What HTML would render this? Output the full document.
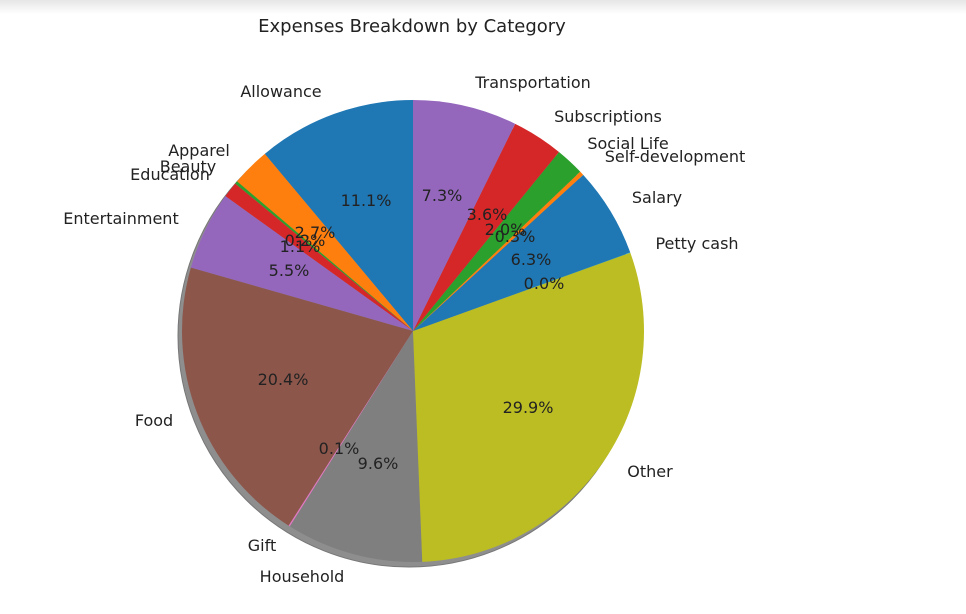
<!DOCTYPE html>
<html><head><meta charset="utf-8"><style>
html,body{margin:0;padding:0;background:#fff;}
svg text{font-family:"DejaVu Sans","Liberation Sans",sans-serif;font-size:16px;fill:#222;}
</style></head><body>
<svg id="s" width="966" height="609" viewBox="0 0 966 609" xmlns="http://www.w3.org/2000/svg">
<defs><linearGradient id="tb" x1="0" y1="0" x2="0" y2="1"><stop offset="0" stop-color="#e6e6e6"/><stop offset="1" stop-color="#fff"/></linearGradient></defs>
<rect width="966" height="609" fill="#fff"/>
<rect width="966" height="14" fill="url(#tb)"/>
<g id="shadow"></g>
<g id="pie"></g>
<text x="412" y="32" text-anchor="middle" style="font-size:18px">Expenses Breakdown by Category</text>
<g text-anchor="middle">
<text x="281" y="97">Allowance</text>
<text x="199" y="156">Apparel</text>
<text x="188" y="172">Beauty</text>
<text x="170" y="180">Education</text>
<text x="121" y="224">Entertainment</text>
<text x="154" y="426">Food</text>
<text x="262" y="551">Gift</text>
<text x="302" y="582">Household</text>
<text x="650" y="477">Other</text>
<text x="697" y="249">Petty cash</text>
<text x="657" y="203">Salary</text>
<text x="675" y="162">Self-development</text>
<text x="628" y="149">Social Life</text>
<text x="608" y="122">Subscriptions</text>
<text x="533" y="88">Transportation</text>
<text x="366" y="206">11.1%</text>
<text x="315" y="238">2.7%</text>
<text x="305" y="246">0.2%</text>
<text x="300" y="252">1.1%</text>
<text x="289" y="276">5.5%</text>
<text x="283" y="385">20.4%</text>
<text x="339" y="454">0.1%</text>
<text x="378" y="469">9.6%</text>
<text x="528" y="413">29.9%</text>
<text x="544" y="289">0.0%</text>
<text x="531" y="265">6.3%</text>
<text x="515" y="242">0.3%</text>
<text x="505" y="235">2.0%</text>
<text x="487" y="220">3.6%</text>
<text x="442" y="201">7.3%</text>
</g>
</svg>
<script>
var cx=413,cy=331,r=231;
var v=[11.1,2.7,0.2,1.1,5.5,20.4,0.1,9.6,29.9,0.02,6.3,0.3,2.0,3.6,7.3];
var c=["#1f77b4","#ff7f0e","#2ca02c","#d62728","#9467bd","#8c564b","#e377c2","#7f7f7f","#bcbd22","#17becf","#1f77b4","#ff7f0e","#2ca02c","#d62728","#9467bd"];
var tot=v.reduce(function(a,b){return a+b},0);
var ns="http://www.w3.org/2000/svg";
var sh=document.createElementNS(ns,"circle");
sh.setAttribute("cx",cx-4);sh.setAttribute("cy",cy+5);sh.setAttribute("r",r);sh.setAttribute("fill","#8e8e8e");sh.setAttribute("stroke","#777");sh.setAttribute("stroke-width","1");
document.getElementById("shadow").appendChild(sh);
var a=90,g=document.getElementById("pie");
for(var i=0;i<v.length;i++){
 var a2=a+v[i]/tot*360;
 var r1=a*Math.PI/180,r2=a2*Math.PI/180;
 var x1=cx+r*Math.cos(r1),y1=cy-r*Math.sin(r1),x2=cx+r*Math.cos(r2),y2=cy-r*Math.sin(r2);
 var p=document.createElementNS(ns,"path");
 p.setAttribute("d","M"+cx+","+cy+"L"+x1+","+y1+"A"+r+","+r+" 0 "+((a2-a)>180?1:0)+" 0 "+x2+","+y2+"Z");
 p.setAttribute("fill",c[i]);
 g.appendChild(p);a=a2;
}
</script>
</body></html>
